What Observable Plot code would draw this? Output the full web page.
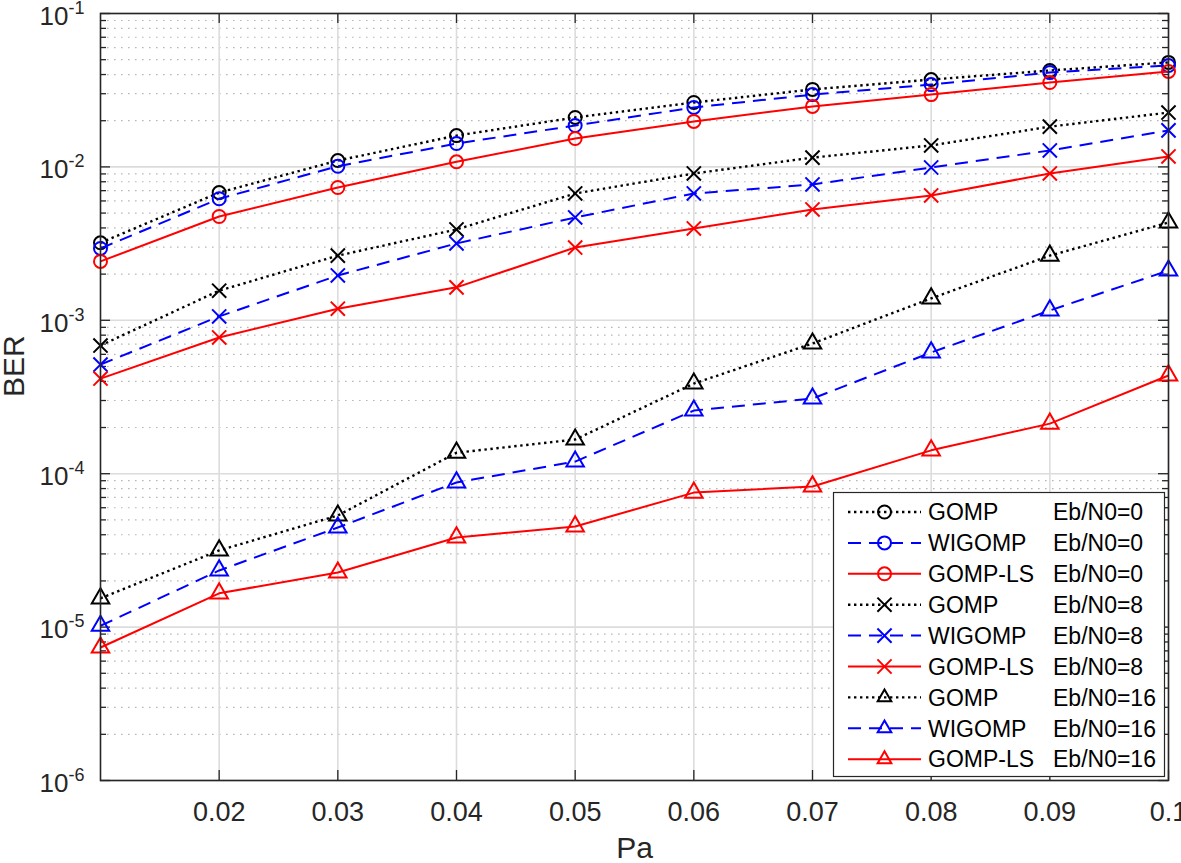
<!DOCTYPE html>
<html><head><meta charset="utf-8">
<script src="https://cdn.jsdelivr.net/npm/d3@7"></script>
<script src="https://cdn.jsdelivr.net/npm/@observablehq/plot@0.6"></script>
<style>
body{margin:0;background:#fff;}
#wrap{position:relative;width:1181px;height:863px;font-family:"Liberation Sans",Arial,Helvetica,sans-serif;}
#wrap svg{overflow:visible;}
</style></head><body><div id="wrap"></div>
<script>
// ---- data ----
const pa = [0.01, 0.02, 0.03, 0.04, 0.05, 0.06, 0.07, 0.08, 0.09, 0.10];
const gomp0   = [3.20e-3, 6.80e-3, 1.10e-2, 1.60e-2, 2.10e-2, 2.63e-2, 3.20e-2, 3.71e-2, 4.25e-2, 4.80e-2];
const wigomp0 = [2.94e-3, 6.20e-3, 1.01e-2, 1.42e-2, 1.86e-2, 2.44e-2, 2.96e-2, 3.44e-2, 4.12e-2, 4.58e-2];
const gompls0 = [2.42e-3, 4.75e-3, 7.34e-3, 1.08e-2, 1.53e-2, 1.98e-2, 2.48e-2, 2.96e-2, 3.55e-2, 4.19e-2];
const gomp8   = [6.85e-4, 1.56e-3, 2.64e-3, 3.91e-3, 6.71e-3, 9.06e-3, 1.15e-2, 1.38e-2, 1.83e-2, 2.26e-2];
const wigomp8 = [5.15e-4, 1.06e-3, 1.96e-3, 3.17e-3, 4.68e-3, 6.71e-3, 7.68e-3, 9.91e-3, 1.28e-2, 1.73e-2];
const gompls8 = [4.17e-4, 7.73e-4, 1.19e-3, 1.64e-3, 2.98e-3, 3.97e-3, 5.28e-3, 6.51e-3, 9.06e-3, 1.17e-2];
const gomp16   = [1.54e-5, 3.16e-5, 5.34e-5, 1.37e-4, 1.67e-4, 3.87e-4, 7.06e-4, 1.39e-3, 2.64e-3, 4.34e-3];
const wigomp16 = [1.02e-5, 2.34e-5, 4.46e-5, 8.77e-5, 1.20e-4, 2.58e-4, 3.09e-4, 6.17e-4, 1.16e-3, 2.11e-3];
const gompls16 = [7.36e-6, 1.66e-5, 2.27e-5, 3.84e-5, 4.53e-5, 7.53e-5, 8.26e-5, 1.42e-4, 2.12e-4, 4.37e-4];

const algorithms = ["GOMP", "WIGOMP", "GOMP-LS"];
const snrLabels = ["Eb/N0=0", "Eb/N0=8", "Eb/N0=16"];
const berBySnr = [[gomp0, wigomp0, gompls0], [gomp8, wigomp8, gompls8], [gomp16, wigomp16, gompls16]];

const xTicks = [0.02, 0.03, 0.04, 0.05, 0.06, 0.07, 0.08, 0.09, 0.1];
const xTickLabels = ["0.02", "0.03", "0.04", "0.05", "0.06", "0.07", "0.08", "0.09", "0.1"];
const yTicks = [1e-6, 1e-5, 1e-4, 1e-3, 1e-2, 1e-1];
const yTickExponents = ["-6", "-5", "-4", "-3", "-2", "-1"];
const minorDecades = [-6, -5, -4, -3, -2];
const minorMultipliers = [2, 3, 4, 5, 6, 7, 8, 9];
const minorY = minorDecades.flatMap(k => minorMultipliers.map(m => m * Math.pow(10, k)));

// ---- styles ----
const algColor = {"GOMP": "#000000", "WIGOMP": "#0000ff", "GOMP-LS": "#ff0000"};
const algDash = {"GOMP": "2.4,3.6", "WIGOMP": "13,8", "GOMP-LS": null};
const snrSymbol = {"Eb/N0=0": "circle", "Eb/N0=8": "times", "Eb/N0=16": "triangle"};

const W = 1181, H = 863, mL = 100, mR = 13, mT = 13, mB = 83;
const frameW = W - mL - mR, frameH = H - mT - mB;
const axisColor = "#262626";
const R = 6.5;

const series = [];
snrLabels.forEach((snr, si) => algorithms.forEach((alg, ai) => {
  series.push({alg, snr, rows: pa.map((p, i) => ({pa: p, ber: berBySnr[si][ai][i]}))});
}));

const marks = [
  Plot.gridY(minorY, {stroke: "#b8b8b8", strokeOpacity: 1, strokeWidth: 1.2, strokeDasharray: "1.6,5.4"}),
  Plot.gridX(xTicks, {stroke: "#dcdcdc", strokeOpacity: 1, strokeWidth: 1.6}),
  Plot.gridY(yTicks, {stroke: "#dcdcdc", strokeOpacity: 1, strokeWidth: 1.6}),
  // inward ticks
  Plot.tickX(xTicks, {x: d => d, insetTop: frameH - 10, stroke: axisColor, strokeWidth: 1.3}),
  Plot.tickX(xTicks, {x: d => d, insetBottom: frameH - 10, stroke: axisColor, strokeWidth: 1.3}),
  Plot.tickY(yTicks, {y: d => d, insetRight: frameW - 10, stroke: axisColor, strokeWidth: 1.3}),
  Plot.tickY(yTicks, {y: d => d, insetLeft: frameW - 10, stroke: axisColor, strokeWidth: 1.3}),
  Plot.tickY(minorY, {y: d => d, insetRight: frameW - 6, stroke: axisColor, strokeWidth: 1.3}),
  Plot.tickY(minorY, {y: d => d, insetLeft: frameW - 6, stroke: axisColor, strokeWidth: 1.3}),
];
for (const s of series) {
  marks.push(Plot.line(s.rows, {x: "pa", y: "ber", stroke: algColor[s.alg],
    strokeWidth: s.alg === "GOMP" ? 2.4 : 2,
    strokeDasharray: algDash[s.alg] || undefined, strokeLinecap: "butt"}));
  marks.push(Plot.dot(s.rows, {x: "pa", y: "ber", symbol: snrSymbol[s.snr], r: R,
    stroke: algColor[s.alg], strokeWidth: 2, fill: "none"}));
}
marks.push(
  Plot.frame({stroke: axisColor, strokeWidth: 1.6}),
  Plot.axisX(xTicks, {label: null, tickSize: 0, tickPadding: 21, fontSize: 27, fill: axisColor,
    tickFormat: d => xTickLabels[xTicks.indexOf(d)]}),
  Plot.axisY(yTicks, {label: null, tickSize: 0, tickPadding: 61, textAnchor: "start", fontSize: 26, fill: axisColor, dy: 3,
    tickFormat: d => "10^" + yTickExponents[yTicks.indexOf(d)]}),
  Plot.text(["Pa"], {frameAnchor: "bottom", dy: 77, fontSize: 30, fill: axisColor, text: d => d}),
  Plot.text(["BER"], {frameAnchor: "left", dx: -86, rotate: -90, fontSize: 30, fill: axisColor, text: d => d})
);

const chart = Plot.plot({
  width: W, height: H,
  marginLeft: mL, marginRight: mR, marginTop: mT, marginBottom: mB,
  style: {fontFamily: "'Liberation Sans', Arial, Helvetica, sans-serif", background: "#fff", overflow: "visible"},
  x: {domain: [0.01, 0.1], label: null},
  y: {type: "log", domain: [1e-6, 1e-1], label: null},
  marks
});
document.getElementById("wrap").appendChild(chart);

// superscript exponents on y tick labels
d3.select(chart).selectAll("text").each(function () {
  const t = this.textContent;
  if (/^10\^/.test(t)) {
    const exp = t.split("^")[1];
    this.textContent = "10";
    d3.select(this).append("tspan").attr("dy", -11).attr("font-size", 18).text(exp);
  }
});

// ---- legend ----
const lg = {left: 833, top: 492, width: 332, height: 285, row0: 20, rowStep: 30.9,
  lineX1: 15, lineX2: 88, markX: 51.5, nameX: 95, snrX: 220, fontSize: 23};
const legend = d3.create("svg")
  .attr("width", lg.width).attr("height", lg.height)
  .style("position", "absolute").style("left", lg.left + "px").style("top", lg.top + "px")
  .style("overflow", "visible");
legend.append("rect").attr("x", 0.5).attr("y", 0.5).attr("width", lg.width - 1).attr("height", lg.height - 1)
  .attr("fill", "#fff").attr("stroke", axisColor).attr("stroke-width", 1.2);
const symMap = {circle: d3.symbolCircle, times: d3.symbolTimes, triangle: d3.symbolTriangle2};
series.forEach((s, i) => {
  const y = lg.row0 + i * lg.rowStep;
  const g = legend.append("g");
  g.append("line").attr("x1", lg.lineX1).attr("x2", lg.lineX2).attr("y1", y).attr("y2", y)
    .attr("stroke", algColor[s.alg]).attr("stroke-width", s.alg === "GOMP" ? 2.4 : 2)
    .attr("stroke-dasharray", algDash[s.alg] || null);
  g.append("path").attr("transform", `translate(${lg.markX},${y})`)
    .attr("d", d3.symbol(symMap[snrSymbol[s.snr]], Math.PI * R * R)())
    .attr("fill", "none").attr("stroke", algColor[s.alg]).attr("stroke-width", 2);
  g.append("text").attr("x", lg.nameX).attr("y", y + 8.2).attr("font-size", lg.fontSize)
    .attr("fill", "#000").text(s.alg);
  g.append("text").attr("x", lg.snrX).attr("y", y + 8.2).attr("font-size", lg.fontSize)
    .attr("fill", "#000").text(s.snr);
});
legend.style("font-family", "'Liberation Sans', Arial, Helvetica, sans-serif");
document.getElementById("wrap").appendChild(legend.node());
</script>
</body></html>
